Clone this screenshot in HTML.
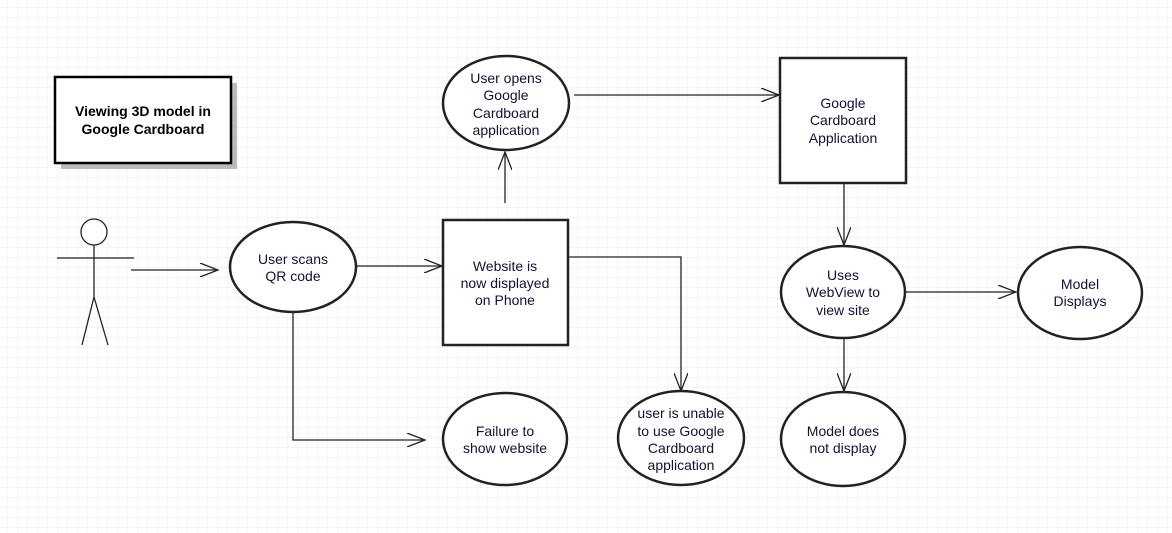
<!DOCTYPE html>
<html><head><meta charset="utf-8"><style>
html,body{margin:0;padding:0;background:#fff;}
svg{display:block;}
text{font-family:"Liberation Sans",Arial,sans-serif;font-size:14px;fill:#111133;text-anchor:middle;}
</style></head><body>
<svg width="1172" height="533" viewBox="0 0 1172 533" xmlns="http://www.w3.org/2000/svg">
<defs>
<pattern id="g" x="7" y="7" width="10" height="10" patternUnits="userSpaceOnUse">
<path d="M0 0H10M0 0V10" stroke="#e8e8f8" stroke-width="1" fill="none"/>
</pattern>
<marker id="a" markerWidth="20" markerHeight="14" refX="18" refY="7" orient="auto" markerUnits="userSpaceOnUse">
<path d="M0 0L18 7L0 14" fill="none" stroke="#222" stroke-width="1.3"/>
</marker>
</defs>
<rect width="1172" height="533" fill="url(#g)"/>
<g stroke="#222" stroke-width="1.3" fill="none">
<!-- title -->
<rect x="61" y="83" width="176" height="86" fill="#bbb" stroke="none"/>
<rect x="55" y="77" width="176" height="86" fill="#fff" stroke="#000" stroke-width="2.5"/>
<!-- actor -->
<circle cx="94" cy="232" r="13" fill="#fff"/>
<path d="M94 245V297M57 258H134M94 297L82 345M94 297L108 345"/>
<!-- connectors -->
<path d="M131 270H218" marker-end="url(#a)"/>
<path d="M356 266H442" marker-end="url(#a)"/>
<path d="M505 203V152" marker-end="url(#a)"/>
<path d="M574 95H779" marker-end="url(#a)"/>
<path d="M844 183V245" marker-end="url(#a)"/>
<path d="M905 292H1016" marker-end="url(#a)"/>
<path d="M844 339V391" marker-end="url(#a)"/>
<path d="M568 257H681V391" marker-end="url(#a)"/>
<path d="M293 313V440H425" marker-end="url(#a)"/>
</g>
<g stroke="#222" stroke-width="2.5" fill="#fff">
<ellipse cx="293" cy="267" rx="63" ry="45"/>
<rect x="443" y="220" width="125" height="125"/>
<ellipse cx="506" cy="103" rx="63" ry="47"/>
<rect x="780" y="58" width="126" height="125"/>
<ellipse cx="843" cy="292" rx="62" ry="46"/>
<ellipse cx="1080" cy="293" rx="62" ry="46"/>
<ellipse cx="843" cy="439" rx="62" ry="47"/>
<ellipse cx="681" cy="438" rx="63" ry="47"/>
<ellipse cx="505" cy="439" rx="62" ry="46"/>
</g>
<text x="143" y="116" style="font-weight:bold;fill:#000">Viewing 3D model in</text>
<text x="143" y="134" style="font-weight:bold;fill:#000">Google Cardboard</text>
<text x="293" y="264">User scans</text><text x="293" y="281">QR code</text>
<text x="505" y="271">Website is</text><text x="505" y="288">now displayed</text><text x="505" y="305">on Phone</text>
<text x="506" y="83">User opens</text><text x="506" y="100">Google</text><text x="506" y="118">Cardboard</text><text x="506" y="135">application</text>
<text x="843" y="108">Google</text><text x="843" y="125">Cardboard</text><text x="843" y="143">Application</text>
<text x="843" y="280">Uses</text><text x="843" y="297">WebView to</text><text x="843" y="315">view site</text>
<text x="1080" y="289">Model</text><text x="1080" y="306">Displays</text>
<text x="843" y="436">Model does</text><text x="843" y="453">not display</text>
<text x="681" y="418">user is unable</text><text x="681" y="436">to use Google</text><text x="681" y="453">Cardboard</text><text x="681" y="470">application</text>
<text x="505" y="436">Failure to</text><text x="505" y="453">show website</text>
</svg>
</body></html>
